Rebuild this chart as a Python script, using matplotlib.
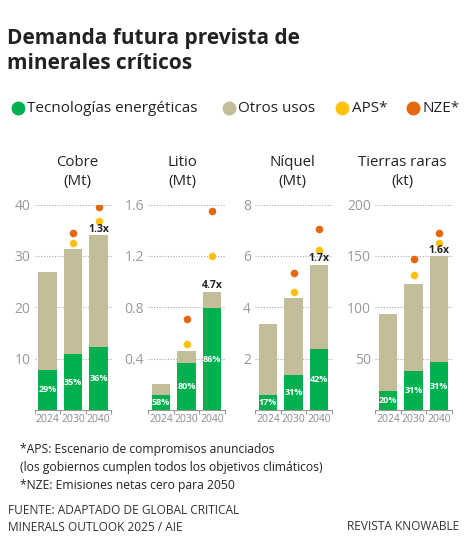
import matplotlib
matplotlib.use("Agg")
import matplotlib.pyplot as plt
from matplotlib.lines import Line2D
import numpy as np

plt.rcParams['font.family'] = ['Open Sans', 'DejaVu Sans']

# data
years = ["2024", "2030", "2040"]
minerals = ["Cobre\n(Mt)", "Litio\n(Mt)", "Níquel\n(Mt)", "Tierras raras\n(kt)"]

total = [[26.8, 31.3, 34.0],
         [0.20, 0.457, 0.922],
         [3.35, 4.35, 5.64],
         [93.3, 122.5, 149.5]]
energy = [[7.8, 10.9, 12.2],
          [0.116, 0.366, 0.793],
          [0.57, 1.35, 2.37],
          [18.7, 38.0, 46.3]]
pct_labels = [["29%", "35%", "36%"],
              ["58%", "80%", "86%"],
              ["17%", "31%", "42%"],
              ["20%", "31%", "31%"]]
aps = [[32.6, 36.8], [0.51, 1.20], [4.6, 6.23], [131.6, 163.0]]
nze = [[34.4, 39.6], [0.708, 1.547], [5.34, 7.06], [146.6, 172.0]]
growth = ["1.3x", "4.7x", "1.7x", "1.6x"]
yticks = [[10, 20, 30, 40], [0.4, 0.8, 1.2, 1.6], [2, 4, 6, 8], [50, 100, 150, 200]]
ytick_labels = [["10", "20", "30", "40"], ["0.4", "0.8", "1.2", "1.6"],
                ["2", "4", "6", "8"], ["50", "100", "150", "200"]]

GREEN = "#00b04f"
TAN = "#c4bd99"
YELLOW = "#fec20e"
ORANGE = "#e4680f"
GRAY = "#999999"

W, H = 467, 540
fig = plt.figure(figsize=(W / 100, H / 100), dpi=100)


def fx(px):
    return px / W


def fy(py):
    return 1 - py / H


fig.text(fx(7), fy(28), "Demanda futura prevista de\nminerales críticos",
         fontsize=15, fontweight="bold", color="#222222", va="top",
         linespacing=1.25)

# legend
legend_items = [("Tecnologías energéticas", GREEN, 17.5),
                ("Otros usos", TAN, 229),
                ("APS*", YELLOW, 342),
                ("NZE*", ORANGE, 413)]
for label, col, x in legend_items:
    fig.add_artist(Line2D([fx(x)], [fy(108)], marker="o", markersize=9,
                          color=col, transform=fig.transFigure))
    fig.text(fx(x + 9.5), fy(108), label, fontsize=11, color="#222222",
             va="center", ha="left")

lefts = [34.5, 148, 255, 375]
title_x = [77, 182, 292, 402]
ax_w = 77
top, bottom = 204.5, 410

x = np.arange(3)
for i in range(4):
    ax = fig.add_axes([fx(lefts[i]), fy(bottom), ax_w / W, (bottom - top) / H])
    other = np.array(total[i]) - np.array(energy[i])
    ax.bar(x, energy[i], width=0.72, color=GREEN, zorder=2)
    ax.bar(x, other, bottom=energy[i], width=0.72, color=TAN, zorder=2)
    ymax = yticks[i][-1]
    for j in range(3):
        ax.text(x[j], energy[i][j] / 2, pct_labels[i][j], color="white",
                fontsize=6.5, fontweight="bold", ha="center", va="center", zorder=3)
    ax.scatter([1, 2], aps[i], s=30, color=YELLOW, zorder=3, linewidths=0)
    ax.scatter([1, 2], nze[i], s=30, color=ORANGE, zorder=3, linewidths=0)
    ax.text(2, total[i][2] + ymax * 0.004, growth[i], fontsize=7.5,
            fontweight="bold", color="#222222", ha="center", va="bottom", zorder=4)

    ax.set_xlim(-0.5, 2.5)
    ax.set_ylim(0, ymax)
    ax.set_yticks(yticks[i])
    ax.set_yticklabels(ytick_labels[i])
    ax.set_xticks(x)
    ax.set_xticklabels(years)
    ax.set_xticks([-0.5, 0.5, 1.5, 2.5], minor=True)
    ax.tick_params(axis="y", length=0, pad=3, labelsize=10, labelcolor=GRAY)
    ax.tick_params(axis="x", which="major", length=0, pad=3, labelsize=7.5,
                   labelcolor="#8a8a8a")
    ax.tick_params(axis="x", which="minor", length=3, width=0.8, color="#999999")
    ax.grid(axis="y", linestyle=(0, (1, 1.5)), color="#aaaaaa", linewidth=0.8)
    ax.set_axisbelow(True)
    for s in ["top", "right", "left"]:
        ax.spines[s].set_visible(False)
    ax.spines["bottom"].set_color("#999999")
    ax.spines["bottom"].set_linewidth(0.8)
    ax.patch.set_alpha(0)

    fig.text(fx(title_x[i]), fy(172), minerals[i], fontsize=10.8, color="#222222",
             ha="center", va="center", linespacing=1.3)

fig.text(fx(20), fy(458.5), "*APS: Escenario de compromisos anunciados\n"
         "(los gobiernos cumplen todos los objetivos climáticos)",
         fontsize=8.7, color="#222222", va="center", linespacing=1.5)
fig.text(fx(20), fy(486), "*NZE: Emisiones netas cero para 2050",
         fontsize=8.7, color="#222222", va="center")
fig.text(fx(8), fy(519), "FUENTE: ADAPTADO DE GLOBAL CRITICAL\n"
         "MINERALS OUTLOOK 2025 / AIE",
         fontsize=8.6, color="#333333", va="center", linespacing=1.4)
fig.text(fx(459), fy(527), "REVISTA KNOWABLE", fontsize=8.6, color="#333333",
         va="center", ha="right")

fig.savefig("out.png", dpi=100)
